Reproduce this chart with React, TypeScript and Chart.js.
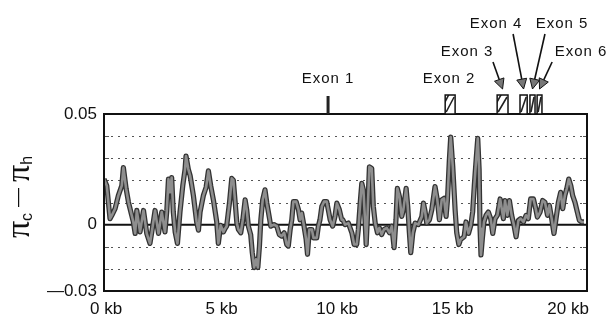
import React, { useEffect, useRef } from "react";
import { Chart, registerables } from "chart.js";

Chart.register(...registerables);

// ---- data ----
const positionKb = [
  -0.09, 0.03, 0.17, 0.25, 0.39, 0.53, 0.68, 0.75, 0.87, 0.97, 1.11, 1.18, 1.26, 1.33, 1.47, 1.62, 1.76, 1.9, 1.98,
  2.12, 2.27, 2.41, 2.55, 2.63, 2.7, 2.77, 2.84, 2.91, 2.99, 3.09, 3.2, 3.32, 3.42, 3.46, 3.56, 3.64, 3.78, 3.92,
  4.0, 4.07, 4.21, 4.33, 4.43, 4.53, 4.65, 4.79, 4.86, 4.96, 5.08, 5.15,
  5.22, 5.34, 5.44, 5.51, 5.58, 5.66, 5.73, 5.83, 5.92, 6.02, 6.09, 6.16, 6.26, 6.33, 6.41, 6.49, 6.57, 6.64, 6.7,
  6.78, 6.88, 6.96, 7.06, 7.13, 7.27, 7.39, 7.5, 7.6, 7.71, 7.82, 7.89, 7.97, 8.04, 8.11, 8.23, 8.33, 8.4, 8.47,
  8.57, 8.66, 8.72, 8.8, 8.91, 8.98, 9.12, 9.19, 9.26, 9.34, 9.44, 9.55, 9.62, 9.7, 9.81, 9.91, 9.99, 10.1, 10.2,
  10.25, 10.35, 10.49, 10.64, 10.74, 10.85, 10.92, 11.0, 11.07, 11.14, 11.21, 11.26, 11.31, 11.4, 11.5, 11.57,
  11.65, 11.75, 11.83, 11.93, 12.03, 12.15, 12.27, 12.37, 12.47, 12.55, 12.61, 12.7, 12.8, 12.87, 12.99, 13.06,
  13.13, 13.19, 13.28, 13.38, 13.52, 13.67, 13.74, 13.81, 13.88, 14.0, 14.1, 14.24, 14.34, 14.43, 14.53, 14.63,
  14.72, 14.78, 14.86, 14.92, 15.01, 15.11, 15.18, 15.27, 15.35,
  15.5, 15.58, 15.69, 15.79, 15.87, 15.94, 16.02, 16.09, 16.15, 16.19, 16.23, 16.29, 16.36, 16.45, 16.55, 16.65,
  16.74, 16.84, 16.94, 17.06, 17.13, 17.2, 17.27, 17.37, 17.46, 17.56, 17.66, 17.75, 17.85, 17.95, 18.07, 18.18,
  18.28, 18.38, 18.5, 18.6, 18.67, 18.79, 18.9, 19.0, 19.11, 19.19, 19.29, 19.39, 19.48, 19.58, 19.68, 19.77,
  19.86, 19.94, 20.03, 20.12, 20.2, 20.3, 20.4, 20.49, 20.59, 20.69,
];

const diffValues = [
  0.0206, 0.0176, 0.0027, 0.0042, 0.0072, 0.0131, 0.0176, 0.0258, 0.0161, 0.0101, 0.0042, 0.0012, -0.004, 0.0064,
  -0.0033, 0.0064, -0.004, -0.0085, -0.0033, 0.0064, -0.004, 0.0057, -0.0033, 0.0064, 0.0206, 0.0146, 0.0213,
  0.0057, -0.0033, -0.0085, 0.0057, 0.0176, 0.0251, 0.031, 0.0251, 0.0221, 0.0131, 0.0012, -0.0025, 0.0057, 0.0131,
  0.0169, 0.0243, 0.0176, 0.0109, 0.0012, -0.0085, -0.0003, -0.0033, -0.0018,
  -0.0007, 0.0097, 0.0209, 0.0201, 0.0112, 0.0007, -0.0022, -0.0037, 0.0022, 0.0112, 0.0067, -0.0007, -0.0045,
  -0.0127, -0.0194, -0.0157, -0.0194, -0.0097, 0.0022, 0.0112, 0.0157, 0.0097, 0.0037, -0.0007, 0.0, -0.0007,
  -0.0045, -0.0052, -0.0037, -0.009, -0.0097, -0.0022, 0.0022, 0.0104, 0.0104, 0.0067, 0.0022, 0.0052, -0.0007,
  -0.0067, -0.0134, -0.0022, -0.0022, -0.006, -0.006, -0.0007, 0.0022, 0.0082, 0.0104, 0.0104, 0.0067, 0.0022,
  -0.0007, 0.0037, 0.0097, 0.0067, 0.0022,
  0.0022, 0.0, 0.0007, -0.0037, -0.009, -0.009, -0.0022, 0.0097, 0.0187, 0.0157, 0.0022, -0.009, 0.0022, 0.0261,
  0.0254, 0.0082, 0.0007, -0.0037, -0.0015, -0.0045, -0.0022, -0.0015, -0.0037, -0.0007, -0.0104, 0.0022, 0.0164,
  0.0127, 0.0037, 0.0067, 0.0164, 0.0082, -0.0037, -0.0127, -0.0037, 0.0007, 0.0, 0.0037, 0.0097, 0.006, 0.0007,
  0.0022, 0.0067, 0.0172, 0.0112, 0.0022, 0.0112, 0.0119, 0.0037, 0.0112, 0.0291, 0.0396, 0.0261, 0.0067, -0.0037,
  -0.009, -0.0067,
  -0.0055, 0.0012, -0.004, -0.0003, 0.0057, 0.0176, 0.0294, 0.039, 0.0251, -0.0018, -0.0137, -0.0063, 0.0012,
  0.0042, 0.0057, 0.0027, -0.004, 0.0027, 0.0042, 0.0116, 0.0072, 0.0027, 0.0109, 0.0042, 0.0109, 0.0042, -0.0003,
  -0.0055, 0.0019, 0.0027, 0.0012, 0.0042, 0.0027, 0.0116, 0.0116, 0.0072, 0.0034, 0.0057, 0.0109, 0.0101, 0.0042,
  0.0087, 0.0027, -0.004, 0.0027, 0.0101, 0.0146, 0.0072, 0.0131, 0.0161, 0.0206, 0.0176, 0.0131, 0.0101, 0.0057,
  0.0019, 0.0012, 0.0012,
];

const xTickKb = [0, 5, 10, 15, 20];
const yTickValues = [-0.03, 0, 0.05];
const dottedGridValues = [-0.02, -0.01, 0.01, 0.02, 0.03, 0.04];

const exonNames = ["Exon 1", "Exon 2", "Exon 3", "Exon 4", "Exon 5", "Exon 6"];
const exonStartKb = [9.57, 14.68, 16.93, 17.92, 18.35, 18.66];
const exonEndKb = [9.65, 15.11, 17.4, 18.23, 18.57, 18.87];
const exonLabelKb = [9.61, 14.85, 15.63, 16.88, 19.74, 20.56];
const exonLabelRow = [0, 0, 1, 2, 2, 1];
const exonArrowTailKb: (number | null)[] = [null, null, 16.75, 17.62, 19.0, 19.31];

const FONT = "'Liberation Sans', Arial, sans-serif";
const SERIF = "'Liberation Serif', 'DejaVu Serif', serif";

const decorPlugin = {
  id: "decor",
  beforeDatasetsDraw(chart: any) {
    const { ctx, chartArea: a, scales } = chart;
    const y = scales.y;
    ctx.save();
    ctx.strokeStyle = "#555";
    ctx.lineWidth = 1.2;
    dottedGridValues.forEach((v) => {
      const py = Math.round(y.getPixelForValue(v)) + 0.5;
      ctx.setLineDash([2, 5]);
      ctx.beginPath();
      ctx.moveTo(a.left, py);
      ctx.lineTo(a.right, py);
      ctx.stroke();
      ctx.setLineDash([]);
      ctx.beginPath();
      ctx.moveTo(a.left, py);
      ctx.lineTo(a.left + 5, py);
      ctx.moveTo(a.right - 4, py);
      ctx.lineTo(a.right, py);
      ctx.stroke();
    });
    const z = y.getPixelForValue(0);
    ctx.strokeStyle = "#111";
    ctx.lineWidth = 2;
    ctx.beginPath();
    ctx.moveTo(a.left, z);
    ctx.lineTo(a.right, z);
    ctx.stroke();
    ctx.restore();
  },
  afterDatasetsDraw(chart: any) {
    const { ctx, chartArea: a, scales } = chart;
    const x = scales.x;
    ctx.save();
    ctx.strokeStyle = "#111";
    ctx.lineWidth = 2;
    ctx.strokeRect(a.left, a.top, a.right - a.left, a.bottom - a.top);

    // exon markers
    const boxTop = a.top - 19;
    const boxBottom = a.top;
    exonNames.forEach((_, i) => {
      const x0 = x.getPixelForValue(exonStartKb[i]);
      const x1 = x.getPixelForValue(exonEndKb[i]);
      const w = x1 - x0;
      if (w < 4) {
        ctx.fillStyle = "#222";
        ctx.fillRect((x0 + x1) / 2 - 1.5, boxTop + 1, 3, boxBottom - boxTop - 1);
      } else {
        ctx.fillStyle = "#fff";
        ctx.fillRect(x0, boxTop, w, boxBottom - boxTop);
        ctx.save();
        ctx.beginPath();
        ctx.rect(x0, boxTop, w, boxBottom - boxTop);
        ctx.clip();
        ctx.strokeStyle = "#222";
        ctx.lineWidth = 1.6;
        ctx.beginPath();
        const h = boxBottom - boxTop;
        ctx.moveTo(x0 + 1, boxBottom - 2);
        ctx.lineTo(x1 - 1, boxTop + 2);
        if (w > 8) {
          ctx.moveTo(x0 - 2, boxBottom - h * 0.45);
          ctx.lineTo(x0 + w * 0.45, boxTop - 2);
        }
        ctx.stroke();
        ctx.restore();
        ctx.strokeStyle = "#111";
        ctx.lineWidth = 1.5;
        ctx.strokeRect(x0, boxTop, w, boxBottom - boxTop);
      }
    });

    // labels and arrows
    const rowY = [79, 52, 24];
    ctx.fillStyle = "#111";
    ctx.font = `15px ${FONT}`;
    try {
      (ctx as any).letterSpacing = "1px";
    } catch (e) {}
    ctx.textAlign = "center";
    ctx.textBaseline = "middle";
    exonNames.forEach((name, i) => {
      const lx = x.getPixelForValue(exonLabelKb[i]);
      ctx.fillText(name, lx, rowY[exonLabelRow[i]]);
    });
    try {
      (ctx as any).letterSpacing = "0px";
    } catch (e) {}
    exonNames.forEach((_, i) => {
      const tailKb = exonArrowTailKb[i];
      if (tailKb === null) return;
      const tx = x.getPixelForValue(tailKb);
      const ty = rowY[exonLabelRow[i]] + 10;
      const px = (x.getPixelForValue(exonStartKb[i]) + x.getPixelForValue(exonEndKb[i])) / 2;
      const py = boxTop - 6;
      const ang = Math.atan2(py - ty, px - tx);
      const len = 10;
      const hw = 5;
      const bx = px - Math.cos(ang) * len;
      const by = py - Math.sin(ang) * len;
      ctx.strokeStyle = "#111";
      ctx.lineWidth = 1.6;
      ctx.beginPath();
      ctx.moveTo(tx, ty);
      ctx.lineTo(bx, by);
      ctx.stroke();
      ctx.fillStyle = "#777";
      ctx.beginPath();
      ctx.moveTo(px, py);
      ctx.lineTo(bx + Math.sin(ang) * hw, by - Math.cos(ang) * hw);
      ctx.lineTo(bx - Math.sin(ang) * hw, by + Math.cos(ang) * hw);
      ctx.closePath();
      ctx.fill();
      ctx.lineWidth = 1;
      ctx.stroke();
    });

    // y-axis title: pi_c - pi_h
    ctx.translate(29, 197);
    ctx.rotate(-Math.PI / 2);
    ctx.textAlign = "left";
    ctx.textBaseline = "alphabetic";
    ctx.fillStyle = "#111";
    const parts: [string, string, number, number][] = [
      ["π", `34px ${SERIF}`, 0, 0],
      ["c", `16px ${FONT}`, 3, 6],
      ["—", `19px ${FONT}`, -6, 6],
      ["π", `34px ${SERIF}`, 0, 0],
      ["h", `16px ${FONT}`, 3, 0],
    ];
    let total = 0;
    parts.forEach(([t, f, , gap]) => {
      ctx.font = f;
      total += ctx.measureText(t).width + gap;
    });
    let cx = -total / 2;
    parts.forEach(([t, f, dy, gap]) => {
      ctx.font = f;
      ctx.fillText(t, cx, dy);
      cx += ctx.measureText(t).width + gap;
    });
    ctx.restore();
  },
};

export default function App() {
  const canvasRef = useRef<HTMLCanvasElement | null>(null);

  useEffect(() => {
    const canvas = canvasRef.current;
    if (!canvas) return;
    const points = positionKb.map((kb, i) => ({ x: kb, y: diffValues[i] }));
    const chart = new Chart(canvas, {
      type: "line",
      data: {
        datasets: [
          {
            data: points,
            borderColor: "#8e8e8e",
            borderWidth: 2.6,
            pointRadius: 0,
            tension: 0,
            borderJoinStyle: "round",
            order: 0,
          },
          {
            data: points,
            borderColor: "#333",
            borderWidth: 5.2,
            pointRadius: 0,
            tension: 0,
            borderJoinStyle: "round",
            order: 1,
          },
        ],
      },
      options: {
        animation: false,
        responsive: false,
        events: [],
        layout: { padding: { top: 114, right: 19, left: 0, bottom: 0 } },
        plugins: { legend: { display: false }, tooltip: { enabled: false }, title: { display: false } },
        scales: {
          x: {
            type: "linear",
            min: -0.09,
            max: 20.82,
            grid: { display: false, drawTicks: false },
            border: { display: false },
            afterBuildTicks: (s: any) => {
              s.ticks = xTickKb.map((v) => ({ value: v }));
            },
            afterFit: (s: any) => {
              s.height = 29;
            },
            ticks: {
              autoSkip: false,
              maxRotation: 0,
              padding: 8,
              color: "#111",
              font: { family: "'Liberation Sans', Arial, sans-serif", size: 17 },
              callback: (v: any) => `${v} kb`,
            },
          },
          y: {
            type: "linear",
            min: -0.03,
            max: 0.05,
            grid: { display: false, drawTicks: false },
            border: { display: false },
            afterBuildTicks: (s: any) => {
              s.ticks = yTickValues.map((v) => ({ value: v }));
            },
            afterFit: (s: any) => {
              s.width = 104;
            },
            ticks: {
              autoSkip: false,
              padding: 7,
              color: "#111",
              font: { family: "'Liberation Sans', Arial, sans-serif", size: 17 },
              callback: (v: any) => {
                const n = Number(v);
                if (Math.abs(n) < 1e-9) return "0";
                return n < 0 ? `—${Math.abs(n).toFixed(2)}` : n.toFixed(2);
              },
            },
          },
        },
      },
      plugins: [decorPlugin],
    } as any);
    return () => chart.destroy();
  }, []);

  return (
    <div style={{ position: "absolute", left: 0, top: 0, width: 606, height: 320, background: "#fff" }}>
      <canvas ref={canvasRef} width={606} height={320} style={{ display: "block", width: 606, height: 320 }} />
    </div>
  );
}
